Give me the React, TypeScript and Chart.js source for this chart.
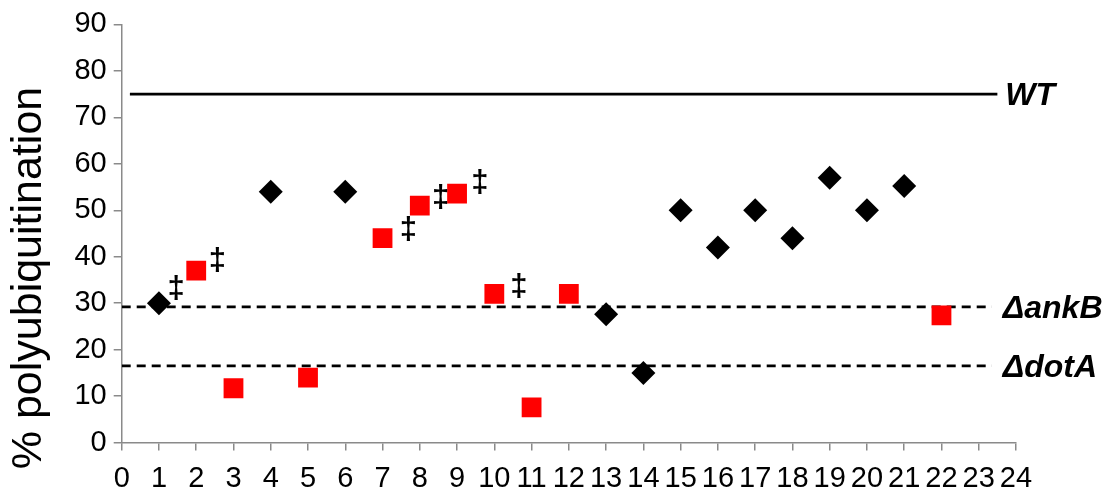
import React, { useEffect, useRef } from 'react';
import { Chart, registerables } from 'chart.js';

Chart.register(...registerables);

const FONT = '"Liberation Sans", Arial, sans-serif';

// Black diamonds
const diamondX = [1, 4, 6, 13, 14, 15, 16, 17, 18, 19, 20, 21];
const diamondY = [30, 54, 54, 27.6, 15, 50, 42, 50, 44, 57, 50, 55.2];

// Red squares
const squareX = [2, 3, 5, 7, 8, 9, 10, 11, 12, 22];
const squareY = [37, 11.7, 14, 44, 51, 53.6, 32, 7.6, 32, 27.4];

// Double-dagger annotations
const daggerX = [1.46, 2.57, 7.69, 8.56, 9.61, 10.66];
const daggerY = [32.9, 39, 45.7, 52.6, 55.7, 33.3];

// Reference lines
const refNames = ['WT', 'ΔankB', 'ΔdotA'];
const refValues = [75, 29.2, 16.5];
const refStart = [0.22, 0, 0];
const refEnd = [23.5, 23.35, 23.35];
const refDashed = [false, true, true];

const yTitle = '% polyubiquitination';

const annotationPlugin = {
  id: 'annotations',
  afterDatasetsDraw(chart: any) {
    const { ctx, scales } = chart;
    const xs = scales.x;
    const ys = scales.y;
    ctx.save();
    ctx.fillStyle = '#000';
    ctx.font = `bold 31px ${FONT}`;
    ctx.textAlign = 'center';
    ctx.textBaseline = 'middle';
    daggerX.forEach((dx, i) => {
      ctx.fillText('‡', xs.getPixelForValue(dx), ys.getPixelForValue(daggerY[i]));
    });
    ctx.font = `italic bold 32px ${FONT}`;
    ctx.textAlign = 'left';
    refNames.forEach((name, i) => {
      ctx.fillText(name, xs.getPixelForValue(refEnd[i]) + (i === 0 ? 8 : 11), ys.getPixelForValue(refValues[i]) + 2);
    });
    ctx.restore();
  },
  afterDraw(chart: any) {
    const { ctx } = chart;
    ctx.save();
    ctx.translate(29, 278);
    ctx.rotate(-Math.PI / 2);
    ctx.fillStyle = '#000';
    ctx.font = `43px ${FONT}`;
    ctx.textAlign = 'center';
    ctx.textBaseline = 'middle';
    ctx.fillText(yTitle, 0, 0);
    ctx.restore();
  },
};

export default function App() {
  const ref = useRef<HTMLCanvasElement>(null);
  useEffect(() => {
    const refSets = refNames.map((name, i) => ({
      label: name,
      data: [
        { x: refStart[i], y: refValues[i] },
        { x: refEnd[i], y: refValues[i] },
      ],
      showLine: true,
      borderColor: '#000',
      borderWidth: 2.7,
      borderDash: refDashed[i] ? [9, 6] : [],
      pointRadius: 0,
      fill: false,
      order: 5,
    }));
    const chart = new Chart(ref.current as HTMLCanvasElement, {
      type: 'scatter',
      data: {
        datasets: [
          ...refSets,
          {
            label: 'diamonds',
            data: diamondX.map((x, i) => ({ x, y: diamondY[i] })),
            pointStyle: 'rectRot',
            pointRadius: 12,
            backgroundColor: '#000',
            borderColor: '#000',
            borderWidth: 0,
            order: 1,
          },
          {
            label: 'squares',
            data: squareX.map((x, i) => ({ x, y: squareY[i] })),
            pointStyle: 'rect',
            pointRadius: 14,
            backgroundColor: '#ff0000',
            borderColor: '#ff0000',
            borderWidth: 0,
            order: 0,
          },
        ] as any,
      },
      options: {
        animation: false,
        responsive: false,
        maintainAspectRatio: false,
        events: [],
        layout: { autoPadding: false, padding: { left: 0, right: 99, top: 20.7, bottom: 0 } },
        plugins: {
          legend: { display: false },
          tooltip: { enabled: false },
        },
        scales: {
          x: {
            type: 'linear',
            min: 0,
            max: 24,
            ticks: {
              stepSize: 1,
              autoSkip: false,
              maxRotation: 0,
              color: '#000',
              padding: 11,
              font: { size: 29, family: FONT },
            },
            grid: {
              drawOnChartArea: false,
              drawTicks: true,
              tickLength: 8,
              tickColor: '#8a8a8a',
              color: '#8a8a8a',
              lineWidth: 1.5,
            },
            border: { color: '#8a8a8a', width: 1.5 },
            afterFit: (s: any) => {
              s.height = 52.4;
            },
          },
          y: {
            type: 'linear',
            min: 0,
            max: 90,
            ticks: {
              stepSize: 10,
              color: '#000',
              padding: 7,
              font: { size: 29, family: FONT },
            },
            grid: {
              drawOnChartArea: false,
              drawTicks: true,
              tickLength: 8,
              tickColor: '#8a8a8a',
              color: '#8a8a8a',
              lineWidth: 1.5,
            },
            border: { color: '#8a8a8a', width: 1.5 },
            afterFit: (s: any) => {
              s.width = 121.7;
            },
          },
        },
      } as any,
      plugins: [annotationPlugin],
    });
    return () => chart.destroy();
  }, []);
  return (
    <div style={{ position: 'fixed', left: 0, top: 0, width: 1115, height: 495, background: '#fff' }}>
      <canvas ref={ref} width={1115} height={495} style={{ display: 'block', width: 1115, height: 495 }} />
    </div>
  );
}
